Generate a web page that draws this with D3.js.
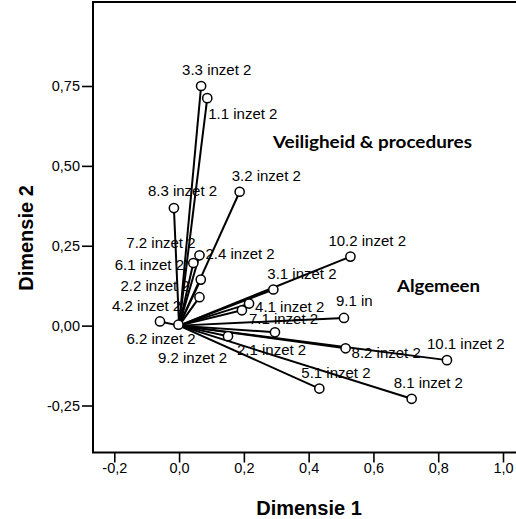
<!DOCTYPE html>
<html>
<head>
<meta charset="utf-8">
<script src="https://cdn.jsdelivr.net/npm/d3@7"></script>
<style>
  body { margin: 0; background: #fff; }
  svg { display: block; }
</style>
</head>
<body>
<div id="chart"></div>
<script>
	// component loadings (dimensie 1, dimensie 2)
	var labels = ["3.3 inzet 2", "1.1 inzet 2", "3.2 inzet 2", "8.3 inzet 2", "2.4 inzet 2", "7.2 inzet 2",
		"6.1 inzet 2", "2.2 inzet 2", "4.2 inzet 2", "10.2 inzet 2", "3.1 inzet 2", "4.1 inzet 2",
		"7.1 inzet 2", "9.1 inzet 2", "6.2 inzet 2", "9.2 inzet 2", "2.1 inzet 2", "8.2 inzet 2",
		"10.1 inzet 2", "5.1 inzet 2", "8.1 inzet 2"];
	var dim1 = [0.068, 0.087, 0.187, -0.016, 0.063, 0.044, 0.067, 0.063, -0.059, 0.529, 0.291, 0.216,
		0.194, 0.509, -0.002, 0.151, 0.296, 0.514, 0.827, 0.433, 0.718];
	var dim2 = [0.750, 0.712, 0.419, 0.368, 0.220, 0.196, 0.144, 0.089, 0.013, 0.216, 0.113, 0.069,
		0.048, 0.024, 0.003, -0.033, -0.021, -0.071, -0.108, -0.197, -0.229];

	var xTicks = [-0.2, 0.0, 0.2, 0.4, 0.6, 0.8, 1.0];
	var yTicks = [-0.25, 0.00, 0.25, 0.50, 0.75];

	// where SPSS put each label, relative to its point (px)
	var labelNudge = {
		"3.3 inzet 2": [-19, -11], "1.1 inzet 2": [1, 21], "3.2 inzet 2": [-8, -11],
		"8.3 inzet 2": [-26, -12], "2.4 inzet 2": [6, 4], "7.2 inzet 2": [-67, -15],
		"6.1 inzet 2": [-86, -10], "2.2 inzet 2": [-79, -6], "4.2 inzet 2": [-48, -10],
		"10.2 inzet 2": [-22, -11], "3.1 inzet 2": [-6, -11], "4.1 inzet 2": [6, 8],
		"7.1 inzet 2": [7, 14], "9.1 inzet 2": [-8, -12], "6.2 inzet 2": [-52, 19],
		"9.2 inzet 2": [-70, 27], "2.1 inzet 2": [-38, 23], "8.2 inzet 2": [6, 10],
		"10.1 inzet 2": [-20, -11], "5.1 inzet 2": [-18, -11], "8.1 inzet 2": [-18, -11]
	};

	var width = 516, height = 519;
	var frame = { left: 93, top: 2, bottom: 452.5, right: 540 };

	var nl = d3.formatLocale({ decimal: ",", thousands: ".", grouping: [3], currency: ["", ""], minus: "-" });

	var x = d3.scaleLinear().domain([-0.2, 1.0]).range([114.3, 503]);
	var y = d3.scaleLinear().domain([-0.25, 0.75]).range([405.5, 86]);

	var svg = d3.select("#chart").append("svg")
		.attr("width", width)
		.attr("height", height);

	var points = labels.map(function(l, i){ return { name: l, x: dim1[i], y: dim2[i] }; });

	// frame (right side runs off the picture)
	svg.append("rect")
		.attr("x", frame.left)
		.attr("y", frame.top)
		.attr("width", frame.right - frame.left)
		.attr("height", frame.bottom - frame.top)
		.attr("fill", "none")
		.attr("stroke", "#000")
		.attr("stroke-width", 2);

	var xAxis = svg.append("g")
		.attr("transform", "translate(0," + frame.bottom + ")")
		.call(d3.axisBottom(x).tickValues(xTicks).tickSize(10).tickPadding(0)
			.tickFormat(nl.format(".1f")));
	var yAxis = svg.append("g")
		.attr("transform", "translate(" + frame.left + ",0)")
		.call(d3.axisLeft(y).tickValues(yTicks).tickSize(11).tickPadding(2)
			.tickFormat(nl.format(".2f")));

	[xAxis, yAxis].forEach(function(a){
		a.select(".domain").remove();
		a.selectAll(".tick line").attr("stroke", "#000").attr("stroke-width", 1.6);
		a.selectAll(".tick text")
			.attr("fill", "#000")
			.style("font-family", "'Liberation Sans', Arial, sans-serif")
			.style("font-size", "14.5px");
	});

	// vectors from the origin
	svg.append("g").selectAll("line")
		.data(points)
		.enter().append("line")
		.attr("x1", x(0))
		.attr("y1", y(0))
		.attr("x2", function(d){ return x(d.x); })
		.attr("y2", function(d){ return y(d.y); })
		.attr("stroke", "#000")
		.attr("stroke-width", 2);

	svg.append("g").selectAll("circle")
		.data(points)
		.enter().append("circle")
		.attr("cx", function(d){ return x(d.x); })
		.attr("cy", function(d){ return y(d.y); })
		.attr("r", 4.6)
		.attr("fill", "#fff")
		.attr("stroke", "#000")
		.attr("stroke-width", 1.5);

	svg.append("g").selectAll("text")
		.data(points)
		.enter().append("text")
		.attr("x", function(d){ return x(d.x) + labelNudge[d.name][0]; })
		.attr("y", function(d){ return y(d.y) + labelNudge[d.name][1]; })
		.style("font-family", "'Liberation Sans', Arial, sans-serif")
		.style("font-size", "15px")
		.attr("fill", "#000")
		.text(function(d){ return d.name; });

	// text boxes added in the chart editor
	svg.append("text")
		.attr("x", 273)
		.attr("y", 148)
		.attr("textLength", 199)
		.attr("lengthAdjust", "spacingAndGlyphs")
		.style("font-family", "Lato, 'Open Sans', sans-serif")
		.style("font-weight", "bold")
		.style("font-size", "17px")
		.text("Veiligheid & procedures");

	svg.append("rect")
		.attr("x", 372)
		.attr("y", 268)
		.attr("width", 118)
		.attr("height", 42)
		.attr("fill", "#fff");
	svg.append("text")
		.attr("x", 397)
		.attr("y", 292)
		.attr("textLength", 83)
		.attr("lengthAdjust", "spacingAndGlyphs")
		.style("font-family", "Lato, 'Open Sans', sans-serif")
		.style("font-weight", "bold")
		.style("font-size", "17px")
		.text("Algemeen");

	// axis titles
	svg.append("text")
		.attr("x", 309)
		.attr("y", 515)
		.attr("text-anchor", "middle")
		.style("font-family", "'Liberation Sans', Arial, sans-serif")
		.style("font-weight", "bold")
		.style("font-size", "20px")
		.text("Dimensie 1");
	svg.append("text")
		.attr("transform", "translate(33,238) rotate(-90)")
		.attr("text-anchor", "middle")
		.style("font-family", "'Liberation Sans', Arial, sans-serif")
		.style("font-weight", "bold")
		.style("font-size", "20px")
		.text("Dimensie 2");
</script>
</body>
</html>
